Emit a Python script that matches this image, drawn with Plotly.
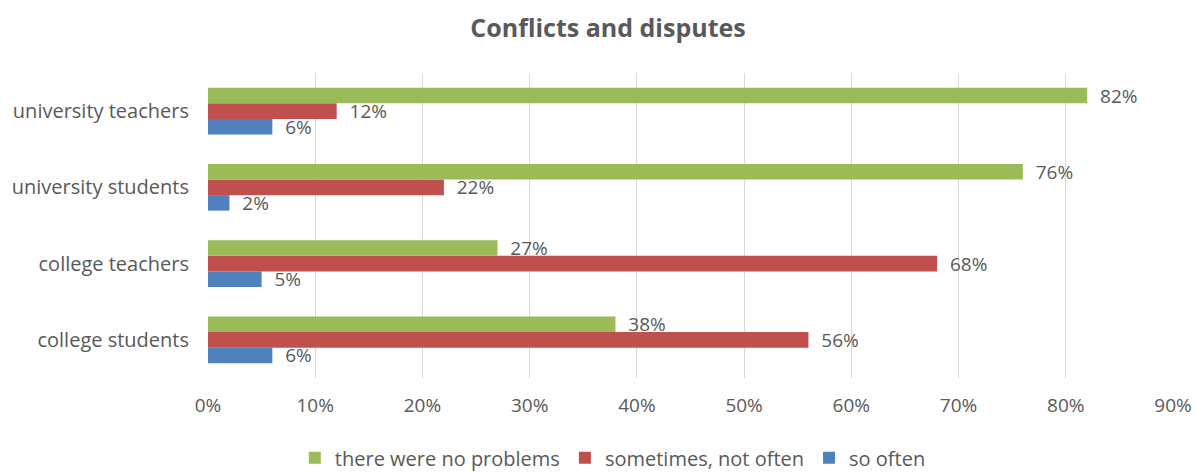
import plotly.graph_objects as go

categories = ["college students", "college teachers", "university students", "university teachers"]
no_problems = [38, 27, 76, 82]
sometimes = [56, 68, 22, 12]
so_often = [6, 5, 2, 6]
tick_vals = [0, 10, 20, 30, 40, 50, 60, 70, 80, 90]

FONT = "Open Sans, sans-serif"
GRAY = "#595959"
FS = 19

fig = go.Figure()
series = [
    ("so often", so_often, "#4F81BD"),
    ("sometimes, not often", sometimes, "#C0504D"),
    ("there were no problems", no_problems, "#9BBB59"),
]
for name, vals, color in series:
    fig.add_trace(go.Bar(
        y=categories, x=vals, name=name, orientation="h",
        marker=dict(color=color, line=dict(width=0)),
        text=[f"\u00a0\u00a0{v}%" for v in vals], textposition="outside",
        constraintext="none",
        textfont=dict(family=FONT, size=FS, color=GRAY),
        cliponaxis=False,
    ))

fig.update_layout(
    width=1204, height=472,
    margin=dict(l=208, r=26, t=73, b=94),
    paper_bgcolor="white", plot_bgcolor="white",
    barmode="group", bargap=0.39, bargroupgap=0,
    title=dict(text="<b>Conflicts and disputes</b>", x=0.505, xref="container", y=0.94, yanchor="middle",
               font=dict(family=FONT, size=25, color=GRAY)),
    font=dict(family=FONT, size=FS, color=GRAY),
    legend=dict(orientation="h", traceorder="reversed", x=0.509, xref="container", xanchor="center",
                y=0.03, yref="container", yanchor="middle",
                font=dict(family=FONT, size=20, color=GRAY), itemwidth=30),
    showlegend=True,
)
fig.update_xaxes(range=[0, 90], tickvals=tick_vals, ticktext=[f"{t}%" for t in tick_vals],
                 showgrid=True, gridcolor="#D9D9D9", zeroline=False, showline=False,
                 tickfont=dict(family=FONT, size=FS, color=GRAY), ticklen=0, ticklabelstandoff=14)
fig.update_yaxes(showgrid=False, showline=False, ticks="", ticklen=0, ticklabelstandoff=18,
                 tickfont=dict(family=FONT, size=20, color=GRAY))

fig.write_html("out.html")
